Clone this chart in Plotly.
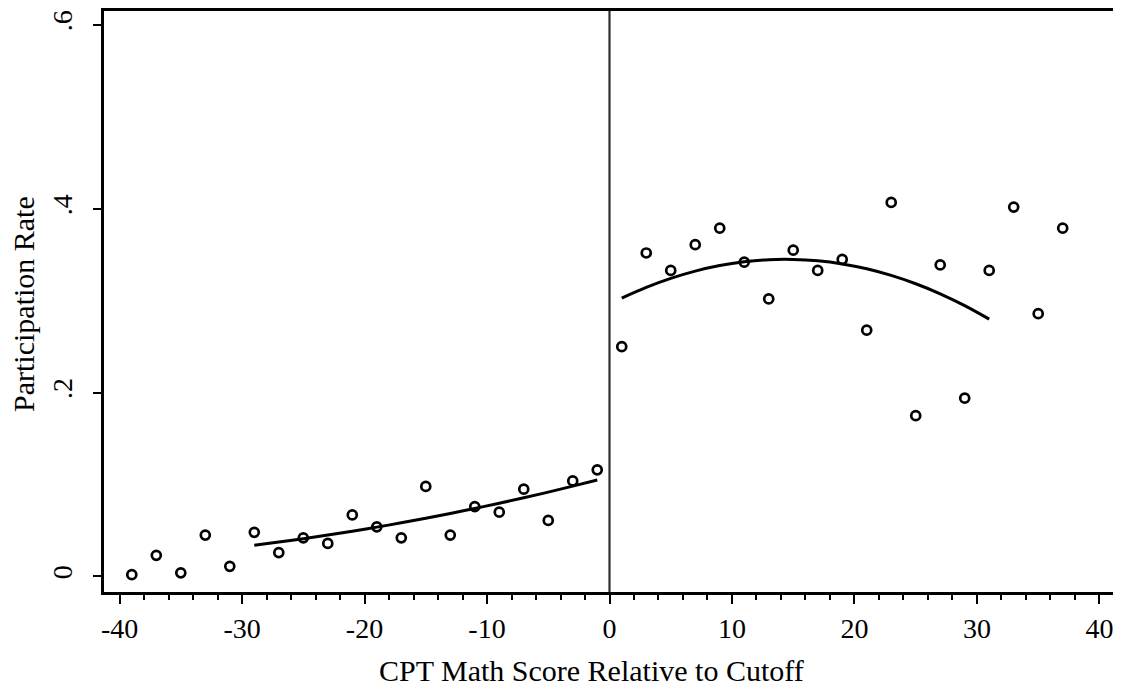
import plotly.graph_objects as go

# Binned scatter: CPT math score relative to cutoff vs participation rate
left_x = [-39, -37, -35, -33, -31, -29, -27, -25, -23, -21, -19, -17, -15, -13, -11, -9, -7, -5, -3, -1]
left_y = [0.002, 0.023, 0.004, 0.045, 0.011, 0.048, 0.026, 0.042, 0.036, 0.067, 0.054, 0.042,
          0.098, 0.045, 0.076, 0.070, 0.095, 0.061, 0.104, 0.116]
right_x = [1, 3, 5, 7, 9, 11, 13, 15, 17, 19, 21, 23, 25, 27, 29, 31, 33, 35, 37]
right_y = [0.250, 0.352, 0.333, 0.361, 0.379, 0.342, 0.302, 0.355, 0.333, 0.345, 0.268, 0.407,
           0.175, 0.339, 0.194, 0.333, 0.402, 0.286, 0.379]

# Quadratic fit lines
fit_left_x = [-29, -27, -25, -23, -21, -19, -17, -15, -13, -11, -9, -7, -5, -3, -1]
fit_left_y = [0.0340, 0.0374, 0.0411, 0.0451, 0.0492, 0.0537, 0.0584, 0.0633, 0.0685, 0.0740,
              0.0797, 0.0856, 0.0918, 0.0983, 0.1050]
fit_right_x = [1, 3, 5, 7, 9, 11, 13, 15, 17, 19, 21, 23, 25, 27, 29, 31]
fit_right_y = [0.3030, 0.3146, 0.3244, 0.3323, 0.3383, 0.3424, 0.3447, 0.3450, 0.3435, 0.3401,
               0.3348, 0.3276, 0.3185, 0.3076, 0.2947, 0.2800]

x_ticks = [-40, -30, -20, -10, 0, 10, 20, 30, 40]
x_tick_text = ["-40", "-30", "-20", "-10", "0", "10", "20", "30", "40"]
y_ticks = [0, 0.2, 0.4, 0.6]
y_tick_text = ["0", ".2", ".4", ".6"]
x_title = "CPT Math Score Relative to Cutoff"
y_title = "Participation Rate"

FONT = "Liberation Serif"
# page has an 8px body margin, so the figure is sized to fit the 1121x690 window
OFF = 8
W, H = 1121 - OFF, 690 - OFF
ML, MR, MT, MB = 96, 6, 3, 98

fig = go.Figure()
marker = dict(symbol="circle-open", size=9, color="black", line=dict(width=2.7, color="black"))
fig.add_trace(go.Scatter(x=left_x, y=left_y, mode="markers", marker=marker, showlegend=False))
fig.add_trace(go.Scatter(x=right_x, y=right_y, mode="markers", marker=marker, showlegend=False))
fig.add_trace(go.Scatter(x=fit_left_x, y=fit_left_y, mode="lines",
                         line=dict(color="black", width=3, shape="spline"), showlegend=False))
fig.add_trace(go.Scatter(x=fit_right_x, y=fit_right_y, mode="lines",
                         line=dict(color="black", width=3, shape="spline"), showlegend=False))

fig.add_shape(type="line", xref="x", yref="paper", x0=0, x1=0, y0=0, y1=1,
              line=dict(color="#2e2e2e", width=2.2), layer="below")

pw = W - ML - MR
ph = H - MT - MB


def px_to_paper(px, py):
    fx, fy = px - OFF, py - OFF
    return (fx - ML) / pw, (H - MB - fy) / ph


tx, ty = px_to_paper(591, 670)
fig.add_annotation(text=x_title, xref="paper", yref="paper", x=tx, y=ty,
                   xanchor="center", yanchor="middle", showarrow=False,
                   font=dict(family=FONT, size=30, color="black"))
yx, yy = px_to_paper(23, 304)
fig.add_annotation(text=y_title, xref="paper", yref="paper", x=yx, y=yy, textangle=-90,
                   xanchor="center", yanchor="middle", showarrow=False,
                   font=dict(family=FONT, size=30, color="black"))

fig.update_layout(
    width=W, height=H,
    margin=dict(l=ML, r=MR, t=MT, b=MB),
    paper_bgcolor="white", plot_bgcolor="white",
    font=dict(family=FONT, size=28, color="black"),
)
fig.update_xaxes(
    range=[-41.27, 41.27], tickmode="array", tickvals=x_ticks, ticktext=x_tick_text,
    automargin=False,
    showgrid=False, zeroline=False, showline=True, linecolor="black", linewidth=3, mirror=True,
    ticks="outside", ticklen=9, tickwidth=2, tickcolor="black",
    minor=dict(dtick=2, ticks="outside", ticklen=5, tickwidth=2, tickcolor="black", showgrid=False),
    tickfont=dict(family=FONT, size=28),
)
fig.update_yaxes(
    range=[-0.0169, 0.6153], tickmode="array", tickvals=y_ticks, ticktext=y_tick_text,
    automargin=False,
    showgrid=False, zeroline=False, showline=True, linecolor="black", linewidth=3, mirror=True,
    ticks="outside", ticklen=8, tickwidth=2, tickcolor="black", tickangle=-90,
    ticklabelstandoff=10,
    tickfont=dict(family=FONT, size=28),
)

fig.write_html("out.html")
